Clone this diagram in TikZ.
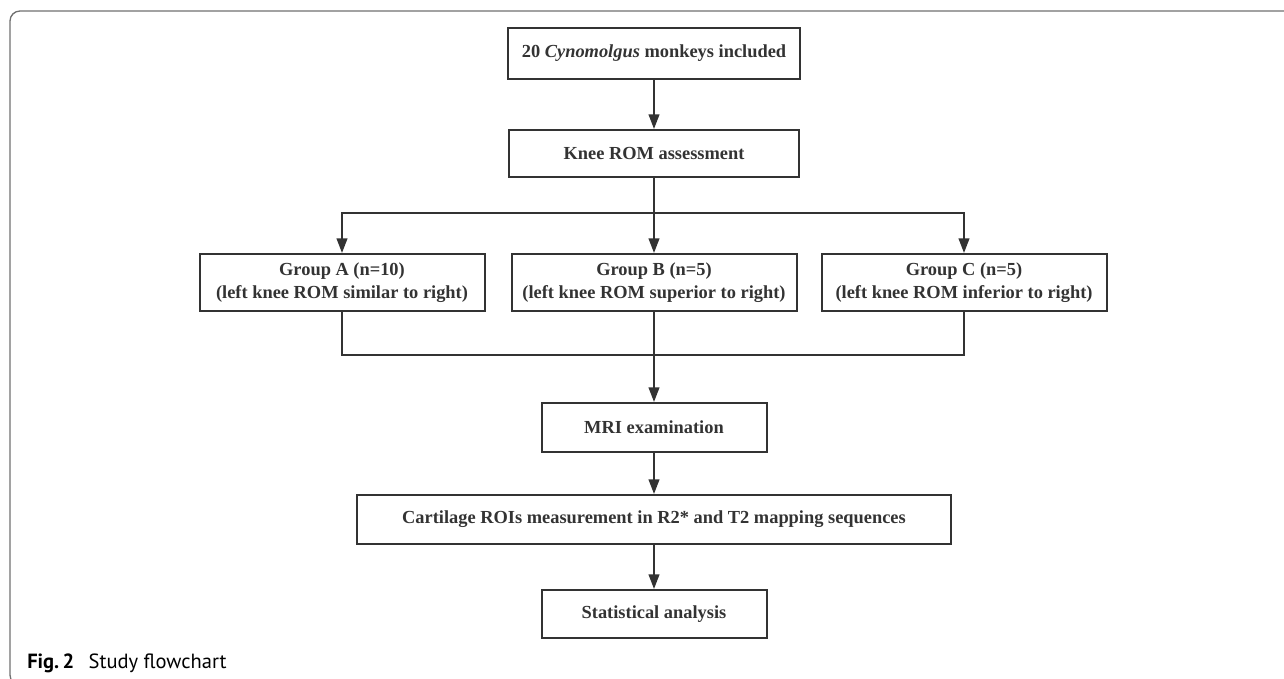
\documentclass[tikz,border=0pt]{standalone}
\usepackage{fontspec}
\setmainfont{Liberation Serif}
\newfontfamily\capfont{PT Sans}
\usetikzlibrary{arrows.meta, positioning}
\definecolor{ink}{HTML}{333333}
\definecolor{framegray}{HTML}{707070}
\tikzset{
  flowbox/.style={draw=ink, line width=1.5pt, rectangle, inner sep=0pt, align=center,
    text=ink, font=\fontsize{13.8}{17.2}\selectfont\bfseries},
  flowarr/.style={draw=ink, line width=1.5pt, -{Triangle[length=11pt, width=8pt]}},
  flowline/.style={draw=ink, line width=1.5pt}
}
\begin{document}
\begin{tikzpicture}[x=0.75pt, y=-0.75pt]
  \clip (0,0) rectangle (1284,678);
  % Figure frame
  \draw[framegray, line width=1pt, rounded corners=7.5pt] (1300,685) -- (10,685) -- (10,11) -- (1300,11);

  % Flowchart boxes
  \node[flowbox, minimum width=219pt, minimum height=38.25pt] (start) at (654,53.5) {20 \textit{Cynomolgus} monkeys included};
  \node[flowbox, minimum width=217.5pt, minimum height=35.25pt] (rom) at (654,153.5) {Knee ROM assessment};
  \node[flowbox, minimum width=213.75pt, minimum height=42.75pt] (grpA) at (342,282.5) {Group A (n=10)\\(left knee ROM similar to right)};
  \node[flowbox, minimum width=213.75pt, minimum height=42.75pt] (grpB) at (654,282.5) {Group B (n=5)\\(left knee ROM superior to right)};
  \node[flowbox, minimum width=213.75pt, minimum height=42.75pt] (grpC) at (964,282.5) {Group C (n=5)\\(left knee ROM inferior to right)};
  \node[flowbox, minimum width=168.75pt, minimum height=36.75pt] (mri) at (654,427.5) {MRI examination};
  \node[flowbox, minimum width=445.5pt, minimum height=36.75pt] (roi) at (654,519.5) {Cartilage ROIs measurement in R2* and T2 mapping sequences};
  \node[flowbox, minimum width=168.75pt, minimum height=36pt] (stat) at (654,614) {Statistical analysis};

  \coordinate (split) at (654,213);
  \coordinate (merge) at (654,355);

  % Connectors
  \draw[flowarr] (start) -- (rom);
  \draw[flowarr] (rom) -- (grpB);
  \draw[flowarr] (split) -| (grpA.north);
  \draw[flowarr] (split) -| (grpC.north);
  \draw[flowline] (grpA.south) |- (merge);
  \draw[flowline] (grpC.south) |- (merge);
  \draw[flowarr] (grpB) -- (mri);
  \draw[flowarr] (mri) -- (roi);
  \draw[flowarr] (roi) -- (stat);

  % Caption
  \node[anchor=base west, inner sep=0pt, font=\capfont\fontsize{15.4}{18}\selectfont] (caption) at (27,668.5) {\textbf{Fig.\,2}\hspace{0.7em}Study flowchart};
\end{tikzpicture}
\end{document}
